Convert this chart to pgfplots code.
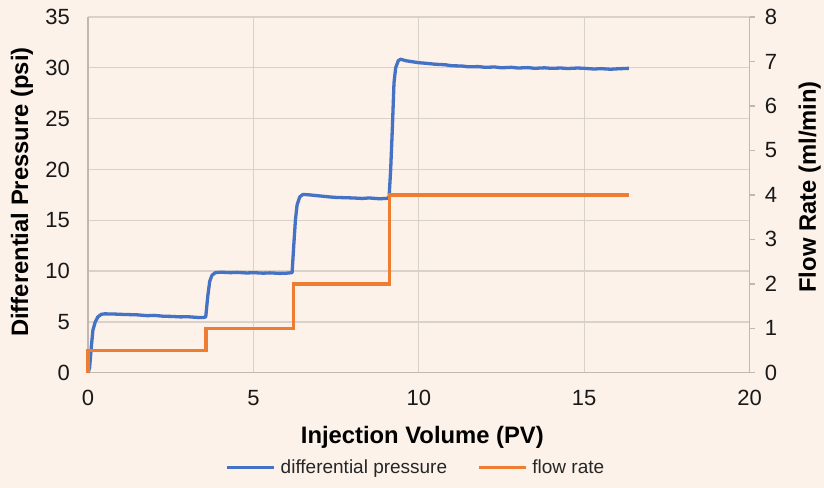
\documentclass[border=0pt]{standalone}
\usepackage{pgfplots}
\pgfplotsset{compat=1.18}
\usepackage{fontspec}
\setmainfont{Liberation Sans}
\definecolor{bgc}{RGB}{252,242,234}
\definecolor{gridc}{RGB}{217,210,202}
\definecolor{axc}{RGB}{191,185,178}
\definecolor{dpblue}{RGB}{68,114,196}
\definecolor{frorange}{RGB}{237,125,49}
\begin{document}
\begin{tikzpicture}[x=1bp,y=1bp]
\fill[bgc] (0,0) rectangle (824,488);
\begin{axis}[
 at={(88bp,115bp)}, anchor=south west,
 scale only axis, width=662bp, height=356bp,
 xmin=0, xmax=20, ymin=0, ymax=35,
 xtick={0,5,10,15,20}, ytick={0,5,10,15,20,25,30,35},
 axis x line*=bottom, axis y line*=left,
 axis line style={draw=axc, line width=1.3bp, -},
 grid=major, major grid style={draw=gridc, line width=1.3bp},
 major tick length=0pt,
 clip=false,
 tick label style={font=\fontsize{22bp}{22bp}\selectfont, text=black!90},
 /pgf/number format/assume math mode=true,
 xticklabel style={anchor=north, inner sep=0pt, yshift=-17bp},
 yticklabel style={anchor=east, inner sep=0pt, xshift=-18bp},
 xlabel={Injection Volume (PV)}, ylabel={Differential Pressure (psi)},
 label style={font=\bfseries\fontsize{23.8bp}{26bp}\selectfont},
 xlabel style={at={(rel axis cs:0.5053,-0.1826)}, anchor=center},
 ylabel style={at={(rel axis cs:-0.0997,0.508)}, anchor=center},
 legend style={at={(rel axis cs:0.494,-0.2669)}, anchor=center, draw=none, fill=none,
   legend columns=2, font=\fontsize{19bp}{19bp}\selectfont, text=black!85,
   nodes={inner sep=0pt}, /tikz/column sep=5bp,
   /tikz/every even column/.append style={column sep=30bp}},
 legend image code/.code={\draw[#1] (0bp,0bp) -- (47bp,0bp);},
]
\addplot[dpblue, line width=3.3bp, line join=round] coordinates {
(0,0) (0.05,0.5) (0.1,2.5) (0.15,4.2) (0.22,5.0) (0.3,5.5) (0.4,5.75) (0.5,5.8)
(0.8,5.78) (1.0,5.75) (1.3,5.72) (1.5,5.7) (1.8,5.62) (2.0,5.65) (2.3,5.56) (2.5,5.55)
(2.8,5.5) (3.0,5.52) (3.3,5.45) (3.5,5.45)
(3.56,5.5) (3.62,7.5) (3.68,9.0) (3.75,9.6) (3.85,9.85) (4.0,9.9) (4.3,9.85) (4.5,9.88)
(4.8,9.82) (5.0,9.85) (5.3,9.8) (5.5,9.83) (5.8,9.78) (6.0,9.8) (6.17,9.85) (6.22,12.5)
(6.27,15.0) (6.32,16.5)
(6.4,17.3) (6.5,17.55) (6.7,17.5) (7.0,17.4) (7.3,17.3) (7.5,17.25) (7.8,17.22) (8.0,17.2)
(8.3,17.15) (8.5,17.2) (8.8,17.12)
(9.0,17.15) (9.1,17.2) (9.15,20) (9.2,24) (9.25,28.5) (9.3,30) (9.38,30.7)
(9.45,30.85) (9.6,30.7) (9.8,30.6) (10.0,30.5) (10.2,30.45) (10.5,30.35) (10.8,30.3) (11.0,30.2)
(11.3,30.18) (11.5,30.1) (11.8,30.12) (12.0,30.05) (12.3,30.08) (12.5,30.0) (12.8,30.05)
(13.0,29.98) (13.3,30.02) (13.5,29.95) (13.8,30.0) (14.0,29.95) (14.3,29.98) (14.5,29.93)
(14.8,29.98) (15.0,29.95) (15.3,29.88) (15.5,29.92) (15.8,29.86) (16.0,29.9) (16.35,29.95)
};
\addlegendentry{differential pressure}
\addlegendimage{frorange, line width=3.3bp}
\addlegendentry{flow rate}
\end{axis}
\begin{axis}[
 at={(88bp,115bp)}, anchor=south west,
 scale only axis, width=662bp, height=356bp,
 xmin=0, xmax=20, ymin=0, ymax=8, ytick={0,1,2,3,4,5,6,7,8},
 axis x line=none, axis y line*=right,
 axis line style={draw=axc, line width=1.3bp, -},
 tick align=outside, major tick length=5bp,
 ytick style={draw=axc, line width=1.3bp},
 clip=false,
 tick label style={font=\fontsize{22bp}{22bp}\selectfont, text=black!90},
 /pgf/number format/assume math mode=true,
 yticklabel style={anchor=west, inner sep=0pt, xshift=10bp},
 ylabel={Flow Rate (ml/min)},
 label style={font=\bfseries\fontsize{23.8bp}{26bp}\selectfont},
 ylabel style={at={(rel axis cs:1.0906,0.5225)}, anchor=center},
]
\addplot[frorange, line width=3.3bp] coordinates {
(0,0) (0,0.5) (3.57,0.5) (3.57,1) (6.22,1) (6.22,2) (9.12,2) (9.12,4) (16.35,4)
};
\end{axis}
\end{tikzpicture}
\end{document}
